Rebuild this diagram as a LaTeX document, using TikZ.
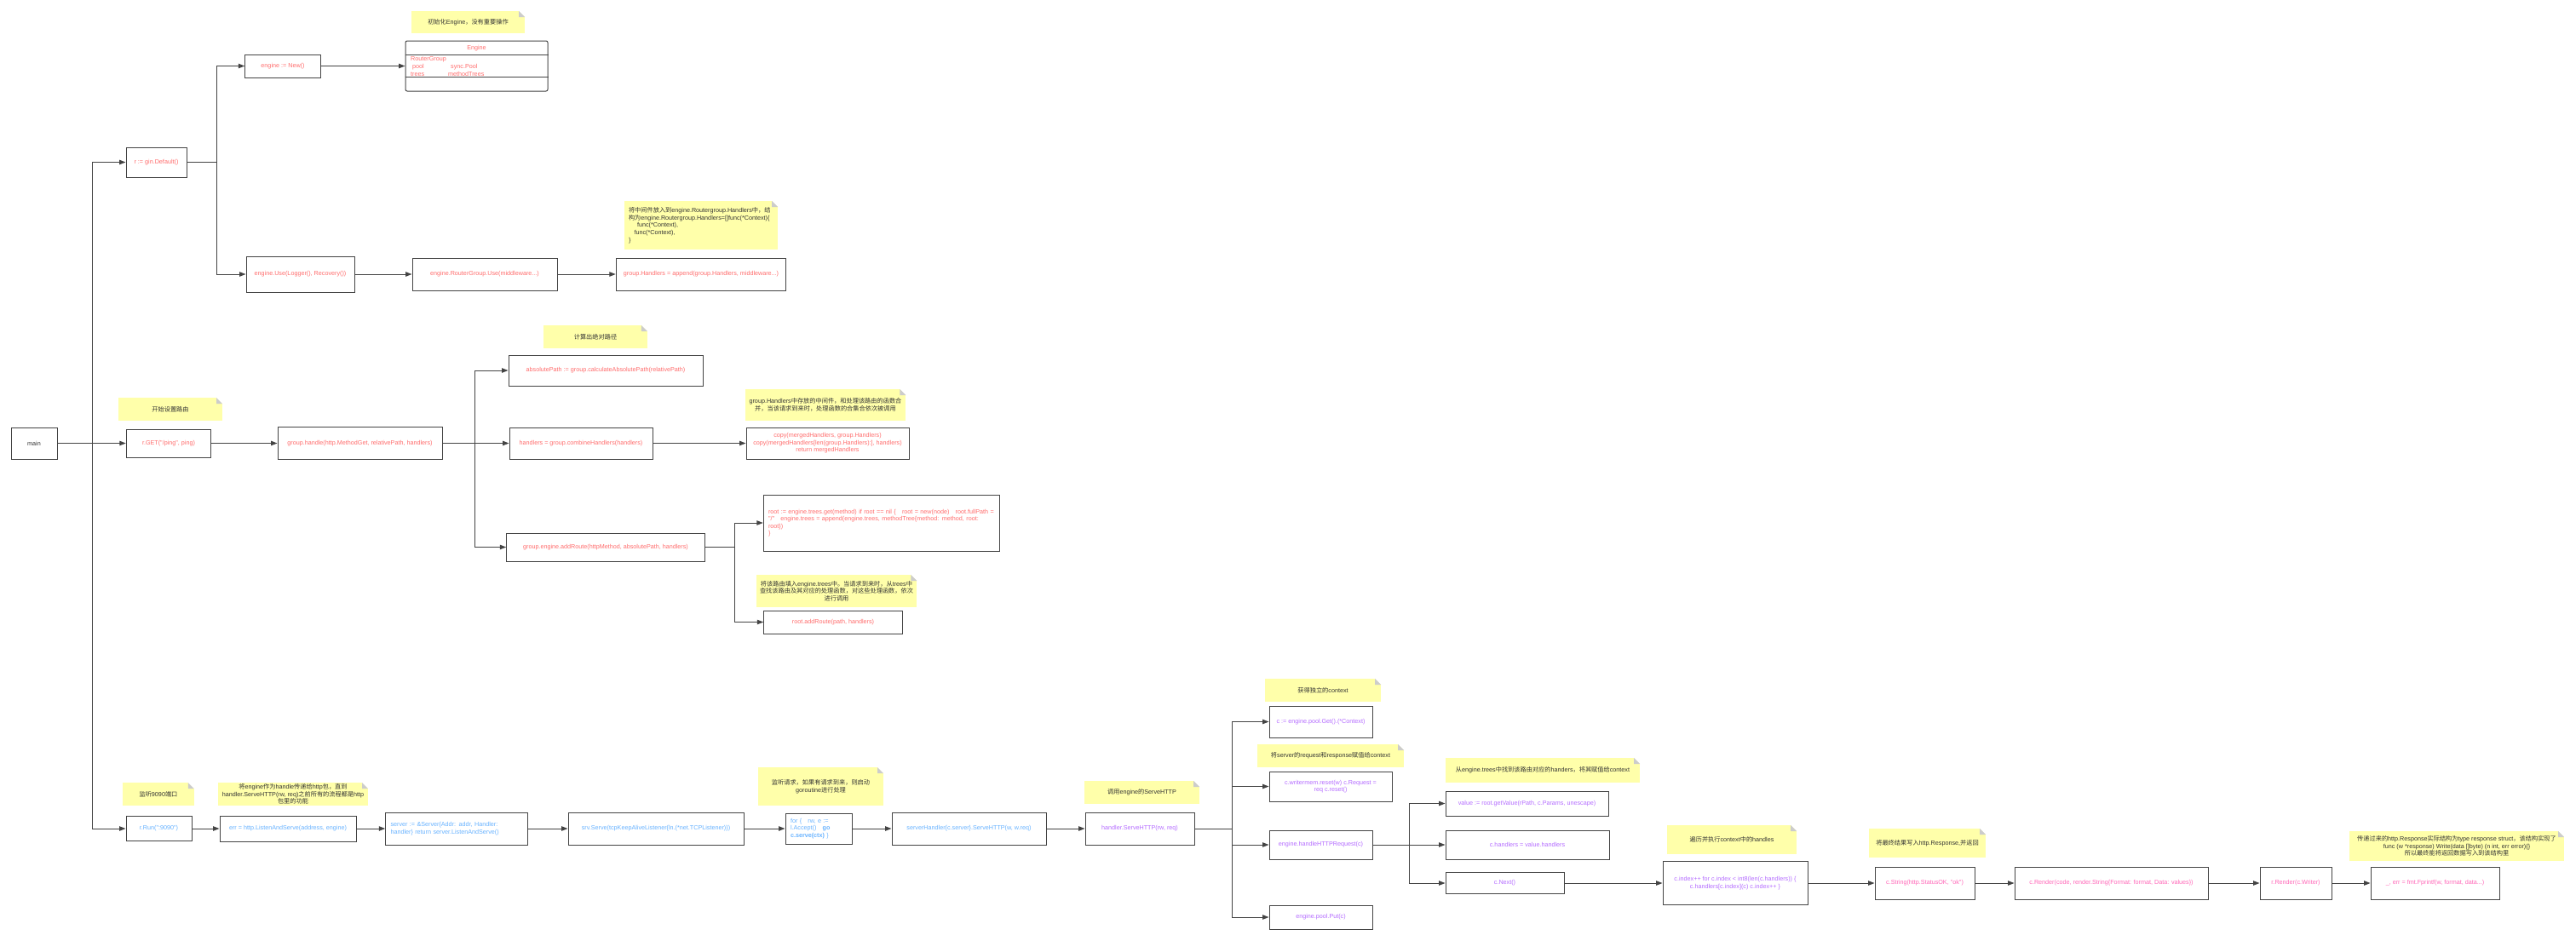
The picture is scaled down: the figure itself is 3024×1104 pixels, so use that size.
\documentclass[tikz,border=0pt]{standalone}
\usepackage{fontspec}
\setmainfont{Liberation Sans}[Ligatures=TeXOff]
\newfontfamily\cjkfont{Noto Sans CJK SC}[Ligatures=TeXOff]
\newcommand\zh[1]{{\cjkfont #1}}
\usetikzlibrary{arrows.meta}
\definecolor{redt}{HTML}{FF6B6B}
\definecolor{bluet}{HTML}{66B2FF}
\definecolor{purplet}{HTML}{B46BFF}
\definecolor{pinkt}{HTML}{FF66B8}
\definecolor{linec}{HTML}{444444}
\definecolor{notey}{HTML}{FFFFAA}
\definecolor{foldc}{HTML}{CCCCCC}
\definecolor{notet}{HTML}{333333}
\tikzset{
  box/.style={draw=linec, line width=1pt, fill=white, inner sep=3pt, align=center,
    font=\fontsize{7.2}{8.4}\selectfont},
  rbox/.style={box, text=redt},
  bbox/.style={box, text=bluet},
  pbox/.style={box, text=purplet},
  kbox/.style={box, text=pinkt},
  note/.style={fill=notey, inner sep=3pt, align=center, text=notet,
    font=\fontsize{7.2}{8.7}\selectfont,
    path picture={
      \fill[white] ([xshift=-7pt]path picture bounding box.north east) -- (path picture bounding box.north east) -- ([yshift=-7pt]path picture bounding box.north east) -- cycle;
      \fill[foldc] ([xshift=-7pt]path picture bounding box.north east) -- ([xshift=-7pt,yshift=-7pt]path picture bounding box.north east) -- ([yshift=-7pt]path picture bounding box.north east) -- cycle;
    }},
  arr/.style={draw=linec, line width=1pt, -{Triangle[length=7.5pt,width=5.5pt]}},
  engt/.style={inner sep=0pt, text=redt, font=\fontsize{7.2}{8.4}\selectfont},
}
\begin{document}
\begin{tikzpicture}[x=1pt,y=-1pt]
\fill[white] (0,0) rectangle (3024,1104);
\useasboundingbox (0,0) rectangle (3024,1104);

% ---------- top section ----------
\node[box, text=notet, minimum width=54pt, minimum height=37pt] (main) at (40,520.5) {main};
\node[rbox, minimum width=71pt, minimum height=35pt] (def) at (183.5,190.5) {r := gin.Default()};
\node[rbox, minimum width=88.5pt, minimum height=27pt] (new) at (332,77.5) {engine := New()};
\node[note, minimum width=133pt, minimum height=26pt] (n1) at (549.5,26) {\zh{初始化}Engine\zh{，没有重要操作}};
\node[draw=linec, line width=1pt, rounded corners=2pt, fill=white, minimum width=167pt, minimum height=59pt] (eng) at (559.5,77.5) {};
\draw[linec, line width=1pt] (eng.west |- 0,64) -- (eng.east |- 0,64);
\draw[linec, line width=1pt] (eng.west |- 0,90) -- (eng.east |- 0,90);
\node[engt] (engh) at (559.5,56.5) {Engine};
\node[engt, anchor=west] (eng1) at (482,69.5) {RouterGroup};
\node[engt, anchor=west] (eng2) at (484,78.5) {pool};
\node[engt, anchor=west] (eng3) at (529,78.5) {sync.Pool};
\node[engt, anchor=west] (eng4) at (482,87) {trees};
\node[engt, anchor=west] (eng5) at (526,87) {methodTrees};

\node[rbox, minimum width=127pt, minimum height=42pt] (use) at (352.5,322) {engine.Use(Logger(), Recovery())};
\node[rbox, minimum width=170pt, minimum height=38pt] (rguse) at (569,322) {engine.RouterGroup.Use(middleware...)};
\node[rbox, minimum width=199.5pt, minimum height=38pt] (app) at (823,322) {group.Handlers = append(group.Handlers, middleware...)};
\node[note, align=left, text width=170pt, minimum width=180pt, minimum height=57pt] (n2) at (823,264.5) {\zh{将中间件放入到}engine.Routergroup.Handlers\zh{中，结}\\\zh{构为}engine.Routergroup.Handlers=[]func(*Context)\{\\\hspace*{10pt}func(*Context),\\\hspace*{6.5pt}func(*Context),\\\}};

% ---------- middle section ----------
\node[note, minimum width=122pt, minimum height=27pt] (n3) at (200,480.5) {\zh{开始设置路由}};
\node[rbox, minimum width=99.5pt, minimum height=33pt] (rget) at (198,520.5) {r.GET("/ping", ping)};
\node[rbox, minimum width=193pt, minimum height=38pt] (handle) at (422.5,520.5) {group.handle(http.MethodGet, relativePath, handlers)};
\node[note, minimum width=121.5pt, minimum height=27pt] (n4) at (699,395.5) {\zh{计算出绝对路径}};
\node[rbox, minimum width=228pt, minimum height=36pt] (abs) at (711,435) {absolutePath := group.calculateAbsolutePath(relativePath)};
\node[rbox, minimum width=168pt, minimum height=37pt] (comb) at (682,520.5) {handlers = group.combineHandlers(handlers)};
\node[note, minimum width=188.5pt, minimum height=37pt] (n5) at (969,475.5) {group.Handlers\zh{中存放的中间件，和处理该路由的函数合}\\\zh{并，当该请求到来时，处理函数的合集合依次被调用}};
\node[rbox, minimum width=191pt, minimum height=37pt] (copy) at (971.5,520.5) {copy(mergedHandlers, group.Handlers)\\copy(mergedHandlers[len(group.Handlers):], handlers)\\return mergedHandlers};
\node[rbox, minimum width=232.5pt, minimum height=33pt] (addr) at (711,642.5) {group.engine.addRoute(httpMethod, absolutePath, handlers)};
\node[rbox, align=left, text width=266pt, minimum width=277.5pt, minimum height=66pt] (root) at (1035,614) {root := engine.trees.get(method) if root == nil \{\ \ \ root = new(node)\ \ \ root.fullPath =\\"/"\ \ \ engine.trees = append(engine.trees, methodTree\{method: method, root: root\})\\\}};
\node[note, minimum width=188.5pt, minimum height=38pt] (n6) at (982,694) {\zh{将该路由填入}engine.trees\zh{中。当请求到来时，从}trees\zh{中}\\\zh{查找该路由及其对应的处理函数，对这些处理函数，依次}\\\zh{进行调用}};
\node[rbox, minimum width=162.5pt, minimum height=27pt] (raddr) at (978,730.5) {root.addRoute(path, handlers)};

% ---------- bottom section ----------
\node[note, minimum width=83.5pt, minimum height=27pt] (n7) at (186,932.5) {\zh{监听}9090\zh{端口}};
\node[bbox, minimum width=77pt, minimum height=29pt] (run) at (186.5,973) {r.Run(":9090")};
\node[note, inner sep=1pt, minimum width=176pt, minimum height=27pt] (n8) at (344,932.5) {\zh{将}engine\zh{作为}handle\zh{传递给}http\zh{包，直到}\\handler.ServeHTTP(rw, req)\zh{之前所有的流程都是}http\\\zh{包里的功能}};
\node[bbox, minimum width=160pt, minimum height=30pt] (las) at (338,973) {err = http.ListenAndServe(address, engine)};
\node[bbox, align=left, text width=155pt, minimum width=166.5pt, minimum height=38pt] (server) at (536,973) {server := \&Server\{Addr: addr, Handler:\\handler\} return server.ListenAndServe()};
\node[bbox, minimum width=206pt, minimum height=38pt] (serve) at (770,973) {srv.Serve(tcpKeepAliveListener\{ln.(*net.TCPListener)\})};
\node[note, minimum width=147pt, minimum height=45pt] (n9) at (963.5,923.5) {\zh{监听请求，如果有请求到来，则启动}\\goroutine\zh{进行处理}};
\node[bbox, align=left, text width=66pt, minimum width=78pt, minimum height=36pt] (forb) at (961,973) {for \{\ \ \ rw, e :=\\l.Accept()\ \ \ \textbf{go}\\\textbf{c.serve(ctx)} \}};
\node[bbox, minimum width=181pt, minimum height=38pt] (sh) at (1137.5,973) {serverHandler\{c.server\}.ServeHTTP(w, w.req)};
\node[note, minimum width=135pt, minimum height=27pt] (n10) at (1340.5,930.5) {\zh{调用}engine\zh{的}ServeHTTP};
\node[pbox, minimum width=128pt, minimum height=38pt] (hs) at (1338,973) {handler.ServeHTTP(rw, req)};

\node[note, minimum width=136pt, minimum height=27pt] (n11) at (1553,810.5) {\zh{获得独立的}context};
\node[pbox, minimum width=121pt, minimum height=37pt] (cget) at (1550.5,847.5) {c := engine.pool.Get().(*Context)};
\node[note, minimum width=172pt, minimum height=27pt] (n12) at (1562,887.5) {\zh{将}server\zh{的}request\zh{和}response\zh{赋值给}context};
\node[pbox, minimum width=144pt, minimum height=35pt] (wm) at (1562,923.5) {c.writermem.reset(w) c.Request =\\req c.reset()};
\node[pbox, minimum width=121pt, minimum height=34pt] (hhr) at (1550.5,992) {engine.handleHTTPRequest(c)};
\node[pbox, minimum width=121pt, minimum height=28pt] (put) at (1550.5,1077) {engine.pool.Put(c)};
\node[note, minimum width=228pt, minimum height=29pt] (n13) at (1811,904.5) {\zh{从}engine.trees\zh{中找到该路由对应的}handers\zh{，将其赋值给}context};
\node[pbox, minimum width=191pt, minimum height=29pt] (val) at (1792.5,943.5) {value := root.getValue(rPath, c.Params, unescape)};
\node[pbox, minimum width=192pt, minimum height=34pt] (ch) at (1793,992) {c.handlers = value.handlers};
\node[pbox, minimum width=139pt, minimum height=25pt] (next) at (1766.5,1037) {c.Next()};
\node[note, minimum width=152pt, minimum height=34pt] (n14) at (2033,986) {\zh{遍历并执行}context\zh{中的}handles};
\node[pbox, minimum width=170pt, minimum height=51pt] (idx) at (2037,1037) {c.index++ for c.index < int8(len(c.handlers)) \{\\c.handlers[c.index](c) c.index++ \}};
\node[note, minimum width=137pt, minimum height=34pt] (n15) at (2262.5,990) {\zh{将最终结果写入}http.Response,\zh{并返回}};
\node[kbox, minimum width=117pt, minimum height=38pt] (cstr) at (2259.5,1037) {c.String(http.StatusOK, "ok")};
\node[kbox, minimum width=227pt, minimum height=38pt] (crender) at (2478.5,1037) {c.Render(code, render.String\{Format: format, Data: values\})};
\node[kbox, minimum width=84pt, minimum height=38pt] (rrender) at (2695,1037) {r.Render(c.Writer)};
\node[note, inner sep=1pt, minimum width=252pt, minimum height=35pt] (n16) at (2884,993.5) {\zh{传递过来的}http.Response\zh{实际结构为}type response struct\zh{，该结构实现了}\\func (w *response) Write(data []byte) (n int, err error)\{\}\\\zh{所以最终能将返回数据写入到该结构里}};
\node[kbox, minimum width=151pt, minimum height=38pt] (fmtb) at (2858.5,1037) {\_, err = fmt.Fprintf(w, format, data...)};

% ---------- connectors ----------
\draw[arr] (main.east) -- ++(41,0) |- (def.west);
\draw[arr] (main.east) -- (rget.west);
\draw[arr] (main.east) -- ++(41,0) |- (run.west);
\draw[arr] (def.east) -- ++(35,0) |- (new.west);
\draw[arr] (def.east) -- ++(35,0) |- (use.west);
\draw[arr] (new.east) -- (eng.west);
\draw[arr] (use.east) -- (rguse.west);
\draw[arr] (rguse.east) -- (app.west);
\draw[arr] (rget.east) -- (handle.west);
\draw[arr] (handle.east) -- ++(38,0) |- (abs.west);
\draw[arr] (handle.east) -- (comb.west);
\draw[arr] (handle.east) -- ++(38,0) |- (addr.west);
\draw[arr] (comb.east) -- (copy.west);
\draw[arr] (addr.east) -- ++(35,0) |- (root.west);
\draw[arr] (addr.east) -- ++(35,0) |- (raddr.west);
\draw[arr] (run.east) -- (las.west);
\draw[arr] (las.east) -- (server.west);
\draw[arr] (server.east) -- (serve.west);
\draw[arr] (serve.east) -- (forb.west);
\draw[arr] (forb.east) -- (sh.west);
\draw[arr] (sh.east) -- (hs.west);
\draw[arr] (hs.east) -- ++(44,0) |- (cget.west);
\draw[arr] (hs.east) -- ++(44,0) |- (wm.west);
\draw[arr] (hs.east) -- ++(44,0) |- (hhr.west);
\draw[arr] (hs.east) -- ++(44,0) |- (put.west);
\draw[arr] (hhr.east) -- ++(43,0) |- (val.west);
\draw[arr] (hhr.east) -- (ch.west);
\draw[arr] (hhr.east) -- ++(43,0) |- (next.west);
\draw[arr] (next.east) -- (idx.west);
\draw[arr] (idx.east) -- (cstr.west);
\draw[arr] (cstr.east) -- (crender.west);
\draw[arr] (crender.east) -- (rrender.west);
\draw[arr] (rrender.east) -- (fmtb.west);
\end{tikzpicture}
\end{document}
